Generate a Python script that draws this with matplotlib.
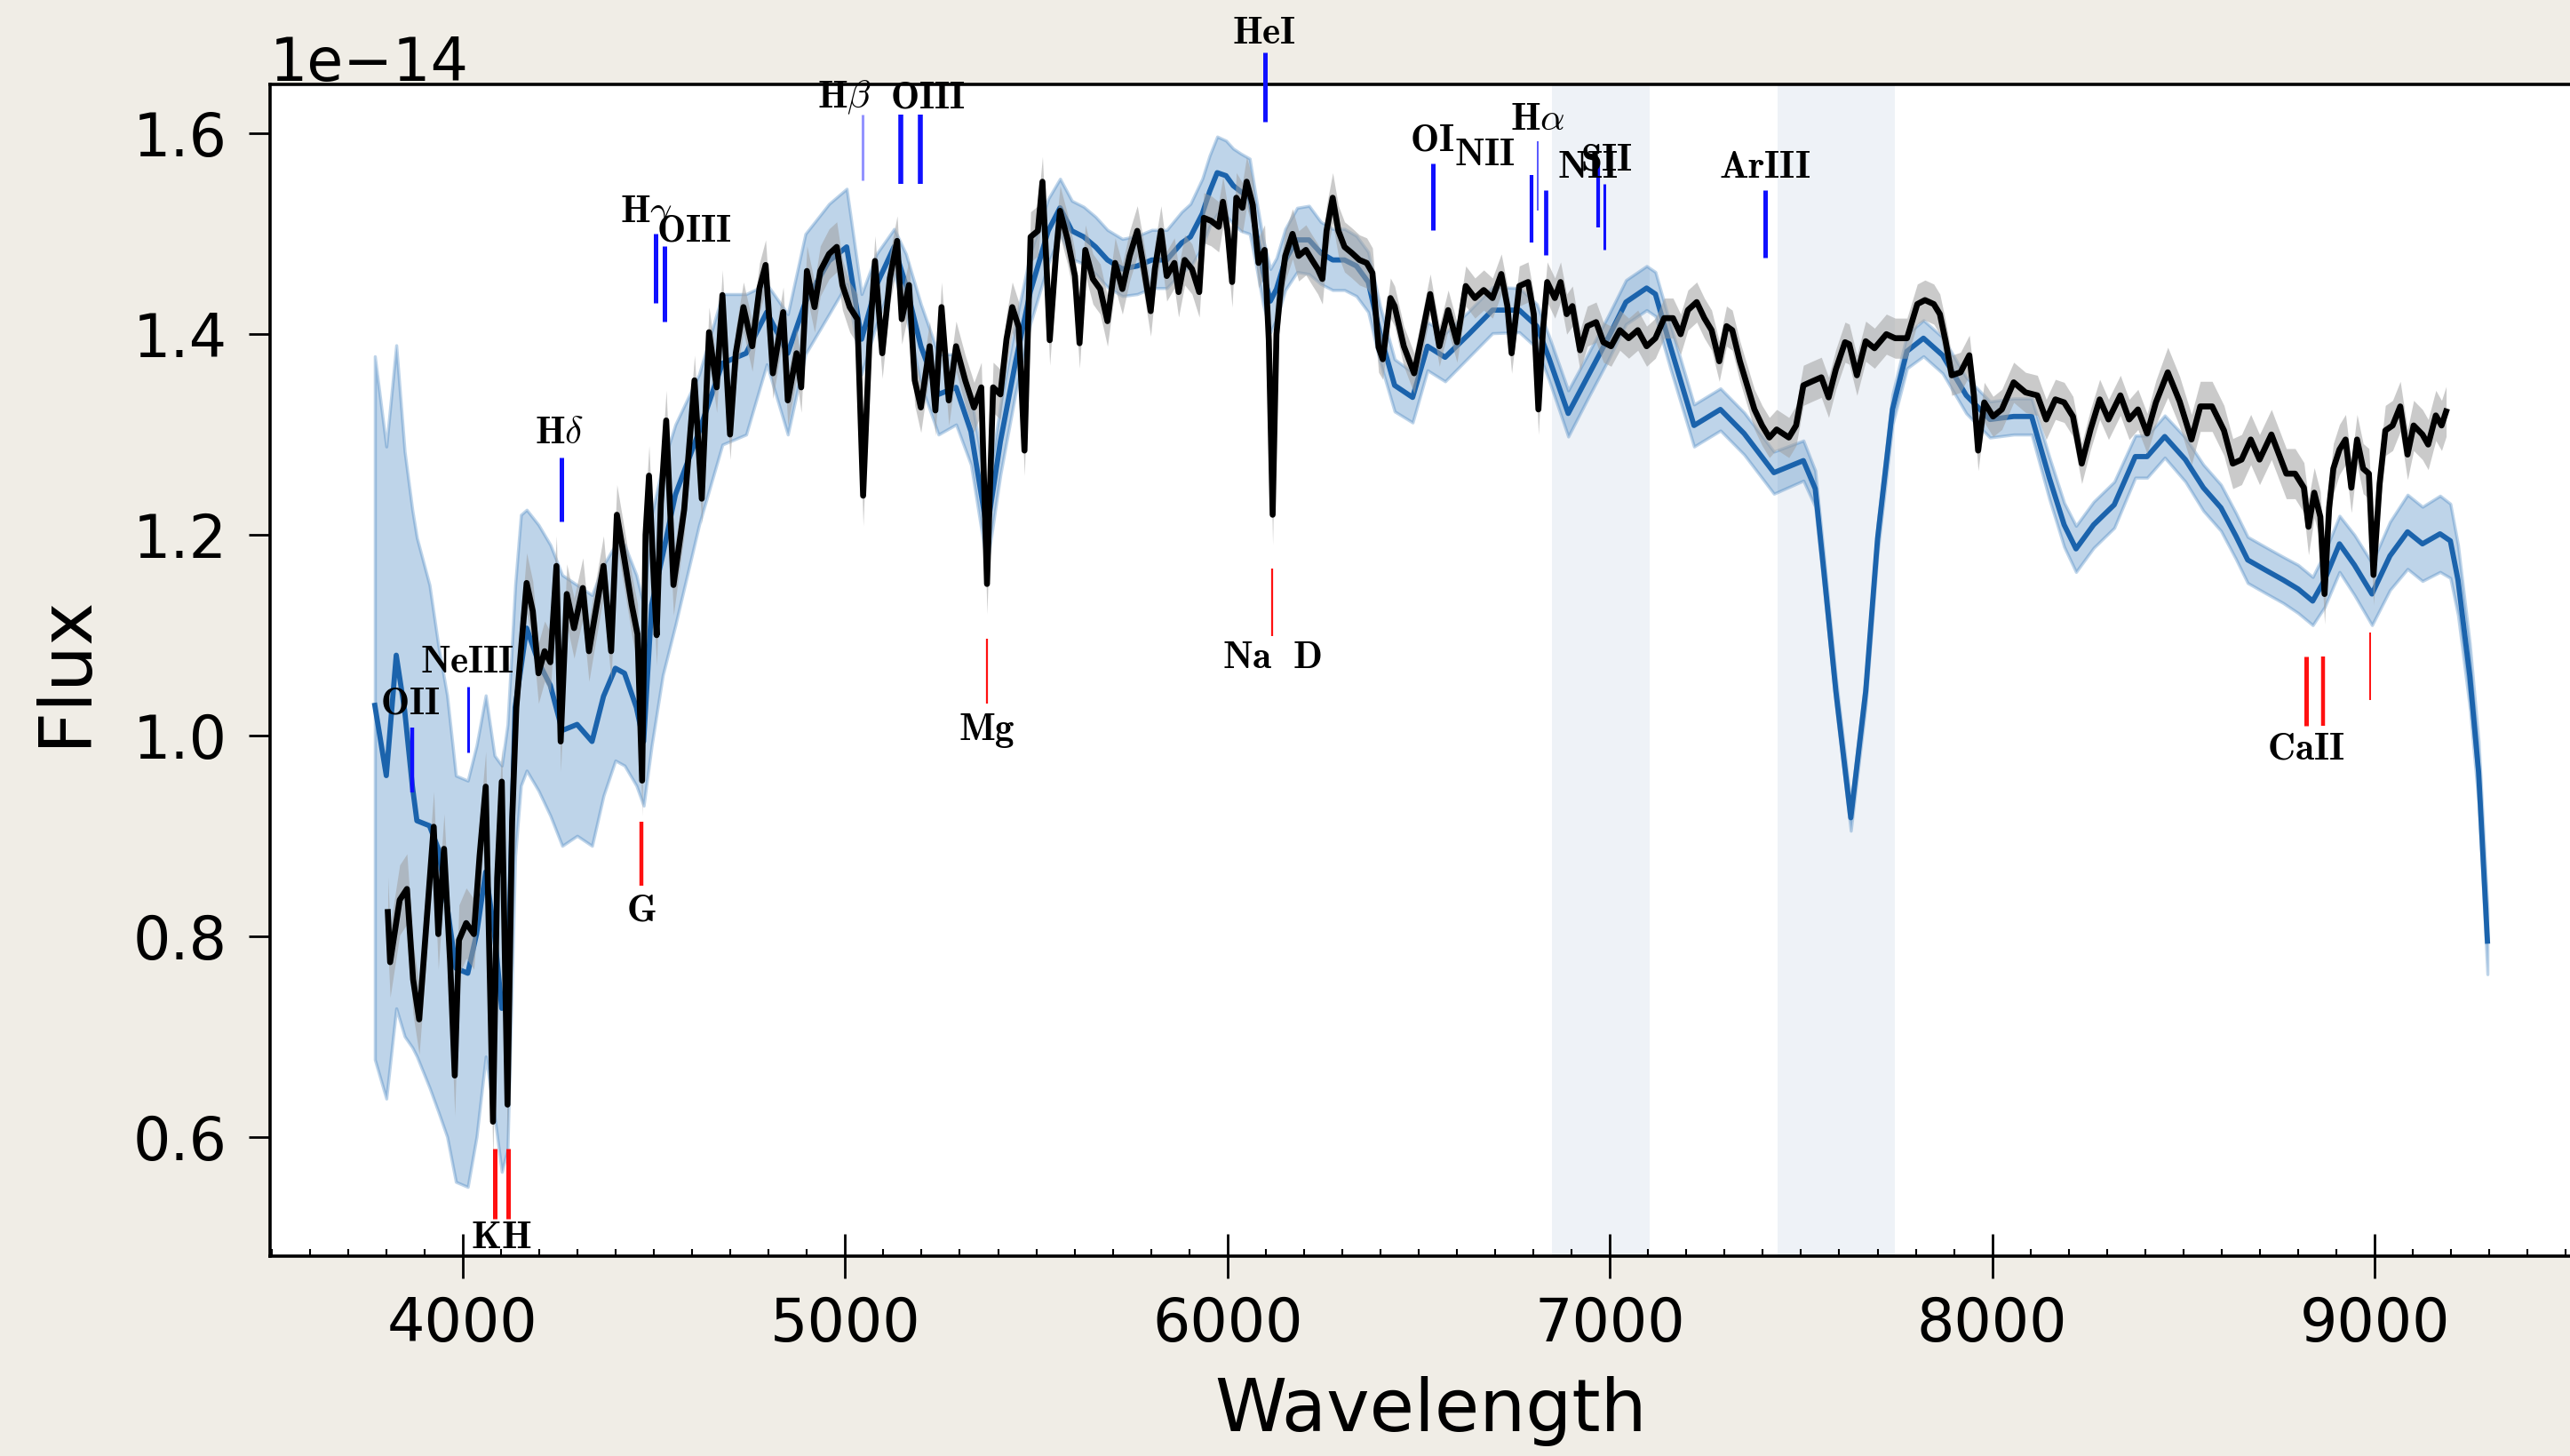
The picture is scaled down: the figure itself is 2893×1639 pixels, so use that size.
import numpy as np
import matplotlib
matplotlib.use("Agg")
import matplotlib.pyplot as plt
from matplotlib.ticker import MultipleLocator

# ---------------------------------------------------------------- data
# observed spectrum (flux in units of 1e-14)
wave_obs = [
    3804, 3810, 3835, 3854, 3870, 3886, 3905, 3924, 3936, 3951,
    3967, 3979, 3990, 4009, 4029, 4044, 4060, 4079, 4090, 4102,
    4117, 4129, 4140, 4152, 4167, 4183, 4198, 4214, 4229, 4245,
    4256, 4272, 4291, 4314, 4330, 4345, 4368, 4388, 4403, 4423,
    4442, 4457, 4469, 4478, 4487, 4500, 4507, 4518, 4532, 4551,
    4579, 4606, 4625, 4644, 4664, 4679, 4699, 4714, 4734, 4757,
    4776, 4792, 4811, 4838, 4850, 4873, 4885, 4900, 4920, 4935,
    4958, 4978, 4993, 5012, 5032, 5047, 5063, 5078, 5097, 5117,
    5136, 5148, 5167, 5182, 5198, 5221, 5236, 5252, 5271, 5290,
    5314, 5337, 5356, 5371, 5387, 5406, 5422, 5437, 5454, 5469,
    5485, 5504, 5516, 5527, 5535, 5551, 5562, 5582, 5601, 5613,
    5628, 5648, 5667, 5686, 5706, 5725, 5744, 5764, 5779, 5799,
    5810, 5826, 5841, 5861, 5872, 5888, 5907, 5926, 5938, 5957,
    5977, 5988, 6000, 6012, 6023, 6039, 6050, 6066, 6081, 6097,
    6108, 6118, 6128, 6139, 6151, 6170, 6186, 6205, 6221, 6236,
    6248, 6259, 6275, 6290, 6306, 6325, 6345, 6364, 6379, 6395,
    6406, 6426, 6437, 6461, 6488, 6507, 6530, 6554, 6577, 6600,
    6623, 6647, 6670, 6693, 6716, 6732, 6743, 6763, 6786, 6801,
    6813, 6825, 6836, 6856, 6871, 6887, 6902, 6922, 6941, 6964,
    6983, 7003, 7026, 7049, 7073, 7096, 7119, 7142, 7165, 7185,
    7204, 7227, 7247, 7266, 7286, 7305, 7320, 7340, 7359, 7378,
    7398, 7417, 7436, 7452, 7468, 7487, 7506, 7529, 7553, 7572,
    7591, 7615, 7626, 7646, 7669, 7692, 7723, 7746, 7777, 7804,
    7824, 7847, 7863, 7878, 7894, 7917, 7940, 7952, 7963, 7979,
    8002, 8025, 8056, 8087, 8118, 8141, 8165, 8188, 8211, 8234,
    8257, 8281, 8304, 8335, 8358, 8381, 8405, 8428, 8459, 8490,
    8521, 8544, 8575, 8606, 8629, 8652, 8676, 8699, 8730, 8745,
    8769, 8792, 8815, 8827, 8842, 8858, 8869, 8881, 8892, 8908,
    8924, 8939, 8954, 8970, 8985, 8997, 9013, 9028, 9047, 9067,
    9086, 9102, 9125, 9140, 9160, 9175, 9187,
]
flux_obs = [
    0.824, 0.774, 0.836, 0.847, 0.757, 0.717, 0.813, 0.909, 0.802, 0.887,
    0.774, 0.661, 0.796, 0.813, 0.802, 0.880, 0.949, 0.615, 0.858, 0.954,
    0.632, 0.914, 1.028, 1.084, 1.152, 1.124, 1.062, 1.084, 1.073, 1.169,
    0.994, 1.141, 1.107, 1.147, 1.084, 1.118, 1.169, 1.084, 1.220, 1.175,
    1.130, 1.101, 0.955, 1.200, 1.259, 1.152, 1.100, 1.231, 1.314, 1.150,
    1.225, 1.354, 1.236, 1.402, 1.347, 1.439, 1.300, 1.381, 1.427, 1.388,
    1.446, 1.469, 1.361, 1.422, 1.334, 1.381, 1.347, 1.463, 1.427, 1.463,
    1.480, 1.487, 1.449, 1.427, 1.415, 1.239, 1.388, 1.473, 1.381, 1.456,
    1.493, 1.415, 1.449, 1.354, 1.327, 1.388, 1.324, 1.427, 1.334, 1.388,
    1.354, 1.327, 1.347, 1.151, 1.347, 1.340, 1.395, 1.427, 1.407, 1.284,
    1.497, 1.503, 1.552, 1.465, 1.394, 1.478, 1.523, 1.494, 1.458, 1.391,
    1.484, 1.455, 1.445, 1.413, 1.471, 1.445, 1.478, 1.503, 1.471, 1.423,
    1.465, 1.503, 1.458, 1.471, 1.442, 1.474, 1.465, 1.442, 1.516, 1.513,
    1.507, 1.532, 1.503, 1.452, 1.536, 1.526, 1.552, 1.529, 1.471, 1.484,
    1.394, 1.220, 1.400, 1.445, 1.478, 1.500, 1.478, 1.484, 1.474, 1.465,
    1.455, 1.503, 1.536, 1.503, 1.487, 1.481, 1.474, 1.471, 1.461, 1.387,
    1.375, 1.436, 1.428, 1.388, 1.361, 1.396, 1.440, 1.388, 1.424, 1.392,
    1.448, 1.436, 1.444, 1.436, 1.460, 1.428, 1.381, 1.448, 1.452, 1.420,
    1.325, 1.404, 1.452, 1.436, 1.452, 1.420, 1.428, 1.384, 1.408, 1.412,
    1.392, 1.388, 1.404, 1.396, 1.404, 1.388, 1.396, 1.416, 1.416, 1.400,
    1.424, 1.432, 1.416, 1.404, 1.373, 1.408, 1.404, 1.373, 1.349, 1.325,
    1.309, 1.297, 1.305, 1.301, 1.297, 1.309, 1.349, 1.353, 1.357, 1.337,
    1.365, 1.392, 1.390, 1.359, 1.393, 1.386, 1.400, 1.396, 1.396, 1.430,
    1.434, 1.430, 1.420, 1.393, 1.359, 1.362, 1.379, 1.339, 1.284, 1.332,
    1.318, 1.325, 1.352, 1.342, 1.339, 1.315, 1.335, 1.332, 1.318, 1.271,
    1.305, 1.335, 1.315, 1.339, 1.315, 1.325, 1.301, 1.332, 1.362, 1.333,
    1.295, 1.328, 1.328, 1.304, 1.271, 1.275, 1.295, 1.275, 1.300, 1.285,
    1.261, 1.261, 1.247, 1.208, 1.242, 1.218, 1.141, 1.227, 1.266, 1.285,
    1.295, 1.247, 1.295, 1.266, 1.261, 1.160, 1.251, 1.304, 1.309, 1.328,
    1.280, 1.309, 1.300, 1.290, 1.319, 1.309, 1.323,
]
err_obs = [
    0.035, 0.035, 0.035, 0.035, 0.035, 0.035, 0.035, 0.035, 0.035, 0.035,
    0.035, 0.040, 0.035, 0.035, 0.035, 0.035, 0.035, 0.040, 0.035, 0.035,
    0.040, 0.035, 0.030, 0.030, 0.030, 0.030, 0.030, 0.030, 0.030, 0.030,
    0.030, 0.030, 0.030, 0.030, 0.030, 0.030, 0.030, 0.030, 0.030, 0.030,
    0.030, 0.030, 0.035, 0.030, 0.030, 0.030, 0.030, 0.030, 0.030, 0.030,
    0.025, 0.025, 0.025, 0.025, 0.025, 0.025, 0.025, 0.025, 0.025, 0.025,
    0.025, 0.025, 0.025, 0.025, 0.025, 0.025, 0.025, 0.025, 0.025, 0.025,
    0.025, 0.025, 0.025, 0.025, 0.025, 0.030, 0.025, 0.025, 0.025, 0.025,
    0.025, 0.025, 0.025, 0.025, 0.025, 0.025, 0.025, 0.025, 0.025, 0.025,
    0.025, 0.025, 0.025, 0.030, 0.025, 0.025, 0.025, 0.025, 0.025, 0.025,
    0.025, 0.025, 0.025, 0.025, 0.025, 0.025, 0.025, 0.025, 0.025, 0.025,
    0.025, 0.025, 0.025, 0.025, 0.025, 0.025, 0.025, 0.025, 0.025, 0.025,
    0.025, 0.025, 0.025, 0.025, 0.025, 0.025, 0.025, 0.025, 0.025, 0.025,
    0.025, 0.025, 0.025, 0.025, 0.025, 0.025, 0.025, 0.025, 0.025, 0.025,
    0.025, 0.030, 0.025, 0.025, 0.025, 0.025, 0.025, 0.025, 0.025, 0.025,
    0.025, 0.025, 0.025, 0.025, 0.025, 0.025, 0.025, 0.025, 0.025, 0.025,
    0.020, 0.020, 0.020, 0.020, 0.020, 0.020, 0.020, 0.020, 0.020, 0.020,
    0.020, 0.020, 0.020, 0.020, 0.020, 0.020, 0.020, 0.020, 0.020, 0.020,
    0.025, 0.020, 0.020, 0.020, 0.020, 0.020, 0.020, 0.020, 0.020, 0.020,
    0.020, 0.020, 0.020, 0.020, 0.020, 0.020, 0.020, 0.020, 0.020, 0.020,
    0.020, 0.020, 0.020, 0.020, 0.020, 0.020, 0.020, 0.020, 0.020, 0.020,
    0.020, 0.020, 0.020, 0.020, 0.020, 0.020, 0.020, 0.020, 0.020, 0.020,
    0.020, 0.020, 0.020, 0.020, 0.020, 0.020, 0.020, 0.020, 0.020, 0.020,
    0.020, 0.020, 0.020, 0.020, 0.020, 0.020, 0.020, 0.020, 0.020, 0.020,
    0.020, 0.020, 0.020, 0.020, 0.020, 0.020, 0.020, 0.020, 0.020, 0.020,
    0.020, 0.020, 0.020, 0.020, 0.020, 0.020, 0.020, 0.022, 0.025, 0.025,
    0.025, 0.025, 0.025, 0.025, 0.025, 0.025, 0.025, 0.025, 0.025, 0.025,
    0.025, 0.025, 0.025, 0.028, 0.025, 0.025, 0.030, 0.025, 0.025, 0.025,
    0.025, 0.025, 0.025, 0.025, 0.025, 0.030, 0.025, 0.025, 0.025, 0.025,
    0.025, 0.025, 0.025, 0.025, 0.025, 0.025, 0.025,
]

# best-fit model with its credible band (flux in units of 1e-14)
wave_model = [
    3770, 3800, 3826, 3848, 3868, 3880, 3913, 3936, 3959, 3982,
    4013, 4036, 4060, 4083, 4102, 4117, 4137, 4152, 4167, 4198,
    4229, 4260, 4299, 4338, 4368, 4399, 4423, 4454, 4473, 4494,
    4523, 4556, 4618, 4679, 4741, 4795, 4850, 4896, 4958, 5004,
    5043, 5082, 5128, 5159, 5198, 5244, 5290, 5329, 5371, 5406,
    5445, 5484, 5531, 5562, 5593, 5624, 5655, 5686, 5725, 5764,
    5802, 5841, 5880, 5903, 5934, 5953, 5973, 5996, 6015, 6035,
    6058, 6074, 6093, 6112, 6128, 6151, 6182, 6213, 6244, 6275,
    6306, 6337, 6368, 6399, 6437, 6484, 6523, 6569, 6631, 6693,
    6763, 6809, 6840, 6891, 6941, 6995, 7042, 7096, 7119, 7158,
    7220, 7289, 7351, 7429, 7506, 7537, 7560, 7591, 7630, 7669,
    7700, 7739, 7777, 7820, 7870, 7932, 7994, 8056, 8103, 8149,
    8188, 8219, 8265, 8319, 8374, 8405, 8451, 8505, 8552, 8598,
    8637, 8668, 8714, 8761, 8800, 8838, 8869, 8908, 8947, 8993,
    9040, 9086, 9125, 9171, 9198, 9218, 9249, 9272, 9295,
]
flux_model = [
    1.030, 0.960, 1.080, 1.025, 0.950, 0.915, 0.910, 0.887, 0.830, 0.768,
    0.763, 0.802, 0.864, 0.802, 0.728, 0.745, 1.028, 1.067, 1.107, 1.073,
    1.050, 1.005, 1.011, 0.994, 1.039, 1.067, 1.062, 1.028, 0.994, 1.130,
    1.180, 1.240, 1.303, 1.371, 1.381, 1.422, 1.381, 1.432, 1.473, 1.487,
    1.395, 1.449, 1.487, 1.449, 1.388, 1.340, 1.347, 1.303, 1.205, 1.293,
    1.371, 1.442, 1.503, 1.526, 1.503, 1.497, 1.487, 1.474, 1.465, 1.468,
    1.474, 1.474, 1.491, 1.497, 1.520, 1.542, 1.561, 1.558, 1.548, 1.542,
    1.536, 1.503, 1.462, 1.433, 1.445, 1.474, 1.494, 1.494, 1.481, 1.474,
    1.474, 1.468, 1.452, 1.400, 1.349, 1.337, 1.388, 1.377, 1.400, 1.424,
    1.424, 1.408, 1.377, 1.321, 1.357, 1.396, 1.432, 1.446, 1.440, 1.388,
    1.309, 1.325, 1.301, 1.262, 1.274, 1.246, 1.162, 1.044, 0.918, 1.044,
    1.196, 1.325, 1.383, 1.396, 1.379, 1.339, 1.315, 1.318, 1.318, 1.257,
    1.210, 1.186, 1.210, 1.230, 1.278, 1.278, 1.298, 1.275, 1.247, 1.227,
    1.199, 1.175, 1.165, 1.155, 1.146, 1.134, 1.155, 1.191, 1.170, 1.141,
    1.179, 1.203, 1.191, 1.201, 1.194, 1.155, 1.059, 0.963, 0.795,
]
model_lo = [
    0.677, 0.638, 0.728, 0.700, 0.689, 0.680, 0.649, 0.625, 0.600, 0.555,
    0.550, 0.600, 0.680, 0.620, 0.565, 0.587, 0.880, 0.950, 0.965, 0.945,
    0.920, 0.890, 0.900, 0.890, 0.940, 0.975, 0.970, 0.950, 0.930, 0.990,
    1.060, 1.110, 1.210, 1.290, 1.300, 1.370, 1.300, 1.380, 1.420, 1.450,
    1.360, 1.410, 1.460, 1.420, 1.350, 1.300, 1.310, 1.270, 1.170, 1.260,
    1.340, 1.410, 1.470, 1.500, 1.475, 1.470, 1.460, 1.447, 1.438, 1.440,
    1.446, 1.446, 1.462, 1.467, 1.487, 1.507, 1.520, 1.518, 1.510, 1.503,
    1.500, 1.470, 1.430, 1.402, 1.415, 1.444, 1.462, 1.460, 1.450, 1.444,
    1.444, 1.438, 1.422, 1.372, 1.323, 1.312, 1.364, 1.353, 1.377, 1.401,
    1.402, 1.386, 1.355, 1.298, 1.335, 1.374, 1.410, 1.424, 1.418, 1.366,
    1.288, 1.304, 1.280, 1.241, 1.254, 1.228, 1.146, 1.030, 0.905, 1.030,
    1.182, 1.310, 1.366, 1.378, 1.361, 1.321, 1.297, 1.300, 1.300, 1.236,
    1.188, 1.163, 1.187, 1.207, 1.257, 1.257, 1.277, 1.253, 1.224, 1.204,
    1.176, 1.152, 1.142, 1.132, 1.122, 1.110, 1.128, 1.163, 1.140, 1.110,
    1.145, 1.166, 1.154, 1.163, 1.157, 1.120, 1.027, 0.932, 0.762,
]
model_hi = [
    1.378, 1.288, 1.389, 1.283, 1.225, 1.197, 1.150, 1.090, 1.040, 0.960,
    0.955, 0.990, 1.040, 0.980, 0.970, 1.011, 1.150, 1.220, 1.225, 1.210,
    1.190, 1.160, 1.150, 1.140, 1.170, 1.190, 1.190, 1.160, 1.130, 1.220,
    1.270, 1.310, 1.360, 1.440, 1.440, 1.450, 1.420, 1.500, 1.530, 1.545,
    1.440, 1.480, 1.505, 1.480, 1.430, 1.380, 1.380, 1.340, 1.240, 1.330,
    1.410, 1.480, 1.535, 1.555, 1.533, 1.527, 1.517, 1.504, 1.495, 1.498,
    1.504, 1.504, 1.522, 1.530, 1.555, 1.578, 1.597, 1.593, 1.585, 1.580,
    1.575, 1.537, 1.495, 1.465, 1.476, 1.505, 1.526, 1.528, 1.512, 1.505,
    1.505, 1.498, 1.482, 1.428, 1.375, 1.362, 1.412, 1.401, 1.423, 1.447,
    1.446, 1.430, 1.399, 1.344, 1.379, 1.418, 1.454, 1.468, 1.462, 1.410,
    1.330, 1.346, 1.322, 1.283, 1.294, 1.264, 1.178, 1.058, 0.931, 1.058,
    1.210, 1.340, 1.400, 1.414, 1.397, 1.357, 1.333, 1.336, 1.336, 1.278,
    1.232, 1.209, 1.233, 1.253, 1.299, 1.299, 1.319, 1.297, 1.270, 1.250,
    1.222, 1.198, 1.188, 1.178, 1.170, 1.158, 1.182, 1.219, 1.200, 1.172,
    1.213, 1.240, 1.228, 1.239, 1.231, 1.190, 1.091, 0.994, 0.828,
]

# telluric windows (observed frame)
telluric_lo = [6848, 7439]
telluric_hi = [7104, 7745]

# emission lines (observed wavelength), marker extent and label placement
em_wave = [3868, 4015, 4257, 4504, 4528, 5045, 5146, 5196,
           6098, 6538, 6795, 6811, 6833, 6970, 6985, 7406]
em_bottom = [0.943, 0.983, 1.213, 1.431, 1.413, 1.553, 1.550, 1.550,
             1.612, 1.504, 1.491, 1.523, 1.479, 1.506, 1.484, 1.476]
em_top = [1.008, 1.049, 1.277, 1.500, 1.488, 1.619, 1.619, 1.619,
          1.681, 1.570, 1.559, 1.592, 1.544, 1.570, 1.550, 1.544]
em_names = [r"$\mathbf{OII}$", r"$\mathbf{NeIII}$", r"$\mathbf{H}\delta$",
            r"$\mathbf{H}\gamma$", r"$\mathbf{OIII}$", r"$\mathbf{H}\beta$",
            "", r"$\mathbf{OIII}$", r"$\mathbf{HeI}$", r"$\mathbf{OI}$",
            r"$\mathbf{NII}$", r"$\mathbf{H}\alpha$", r"$\mathbf{NII}$",
            r"$\mathbf{SII}$", "", r"$\mathbf{ArIII}$"]
em_label_x = [3863, 4012, 4252, 4479, 4604, 4998, 5146, 5215,
              6095, 6536, 6674, 6810, 6942, 6991, 6985, 7406]
em_label_y = [1.032, 1.073, 1.302, 1.521, 1.503, 1.636, 1.636, 1.636,
              1.700, 1.594, 1.579, 1.615, 1.567, 1.574, 1.574, 1.567]
em_width = [3.2, 2.2, 3.6, 3.6, 3.6, 2.2, 4.0, 4.0,
            3.6, 3.6, 3.0, 1.4, 3.4, 3.0, 2.2, 3.6]
em_alpha = [1.0, 1.0, 1.0, 1.0, 1.0, 0.45, 1.0, 1.0,
            1.0, 1.0, 1.0, 0.7, 1.0, 1.0, 1.0, 1.0]

# absorption lines (observed wavelength), marker extent and label placement
ab_wave = [4084, 4119, 4467, 5371, 6117, 8821, 8865, 8989]
ab_bottom = [0.518, 0.518, 0.850, 1.032, 1.099, 1.010, 1.010, 1.035]
ab_top = [0.588, 0.588, 0.914, 1.096, 1.166, 1.079, 1.079, 1.103]
ab_names = [r"$\mathbf{K}$", r"$\mathbf{H}$", r"$\mathbf{G}$", r"$\mathbf{Mg}$",
            r"$\mathbf{Na\ \ D}$", r"$\mathbf{CaII}$", "", ""]
ab_label_x = [4060, 4140, 4467, 5371, 6117, 8821, 8865, 8989]
ab_label_y = [0.500, 0.500, 0.826, 1.005, 1.078, 0.987, 0.987, 1.010]
ab_width = [3.6, 3.6, 3.2, 1.6, 1.6, 3.6, 3.2, 1.4]

SCALE = 1e-14

# ---------------------------------------------------------------- figure
plt.rcParams["mathtext.fontset"] = "cm"
plt.rcParams["font.family"] = ["DejaVu Sans"]

W, H = 2893, 1639
fig = plt.figure(figsize=(W / 100, H / 100), dpi=100, facecolor="#f0ede6")
ax = fig.add_axes([304 / W, 1 - 1414 / H, (2918 - 304) / W, (1414 - 95) / H])
ax.set_facecolor("white")

for lo, hi in zip(telluric_lo, telluric_hi):
    ax.axvspan(lo, hi, color="#eef2f7", lw=0, zorder=0)

wm = np.array(wave_model, float)
fm = np.array(flux_model) * SCALE
ax.fill_between(wm, np.array(model_lo) * SCALE, np.array(model_hi) * SCALE,
                color="#2a72b8", alpha=0.3, lw=2.5, zorder=2)
ax.plot(wm, fm, color="#1b63ac", lw=4.2, zorder=3)

wo = np.array(wave_obs, float)
fo = np.array(flux_obs)
eo = np.array(err_obs)
ax.fill_between(wo, (fo - eo) * SCALE, (fo + eo) * SCALE,
                color="#a0a0a0", alpha=0.55, lw=0, zorder=4)
ax.plot(wo, fo * SCALE, color="black", lw=4.8, zorder=5)

# line markers and labels
lab_kw = dict(ha="center", va="center", fontsize=31, clip_on=False, zorder=8)
for x, b, t, w, a in zip(em_wave, em_bottom, em_top, em_width, em_alpha):
    ax.vlines(x, b * SCALE, t * SCALE, colors="#1010ff", linewidths=w,
              alpha=a, clip_on=False, zorder=7)
for name, lx, ly in zip(em_names, em_label_x, em_label_y):
    if name:
        ax.text(lx, ly * SCALE, name, **lab_kw)
for x, b, t, w in zip(ab_wave, ab_bottom, ab_top, ab_width):
    ax.vlines(x, b * SCALE, t * SCALE, colors="#ff1010", linewidths=w,
              clip_on=False, zorder=7)
for name, lx, ly in zip(ab_names, ab_label_x, ab_label_y):
    if name:
        ax.text(lx, ly * SCALE, name, **lab_kw)

# axes styling
ax.set_xlim(3496, 9569)
ax.set_ylim(0.481 * SCALE, 1.649 * SCALE)
ax.xaxis.set_major_locator(MultipleLocator(1000))
ax.xaxis.set_minor_locator(MultipleLocator(100))
ax.yaxis.set_major_locator(MultipleLocator(0.2 * SCALE))
ax.tick_params(axis="x", which="major", direction="inout", length=36,
               width=2.0, labelsize=48, pad=14)
ax.tick_params(axis="x", which="minor", direction="in", length=6, width=1.5)
ax.tick_params(axis="y", which="major", direction="out", length=17,
               width=2.0, labelsize=48, pad=18)
for s in ax.spines.values():
    s.set_linewidth(2.6)
ax.yaxis.get_offset_text().set_fontsize(48)

ax.set_xlabel("Wavelength", fontsize=59, labelpad=18)
ax.set_ylabel("Flux", fontsize=59, labelpad=26)

fig.savefig("out.png", dpi=100, facecolor=fig.get_facecolor())
